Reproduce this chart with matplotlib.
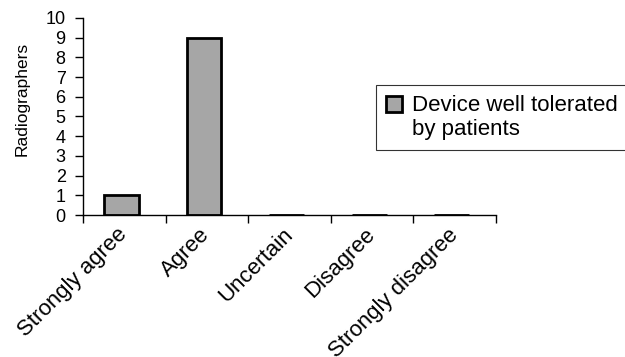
import matplotlib
matplotlib.use("Agg")
import matplotlib.pyplot as plt
from matplotlib.patches import Rectangle
from matplotlib.container import BarContainer
from matplotlib.legend_handler import HandlerPatch, update_from_first_child
from matplotlib.ticker import FixedLocator

plt.rcParams['font.family'] = ['Liberation Sans', 'DejaVu Sans']

categories = ["Strongly agree", "Agree", "Uncertain", "Disagree", "Strongly disagree"]
counts = [1, 9, 0, 0, 0]
series_name = "Device well tolerated\nby patients"
y_ticks = list(range(0, 11))

fig = plt.figure(figsize=(6.25, 3.57), dpi=100)
ax = fig.add_axes([83 / 625, 1 - 215 / 357, 413 / 625, 197 / 357])

x = list(range(len(categories)))
bar_x = [i - 0.035 for i in x]
ax.bar(bar_x, counts, width=0.42, color="#a6a6a6", edgecolor="black",
       linewidth=2.0, label=series_name, zorder=3)

ax.set_xlim(-0.5, len(categories) - 0.5)
ax.set_ylim(0, 10)
ax.set_yticks(y_ticks)
ax.tick_params(axis='y', direction='out', length=5.5, width=1.0, pad=7,
               labelsize=13)

# category labels at centres, tick marks at category boundaries
ax.set_xticks(x)
ax.set_xticklabels(categories, rotation=45, ha='right', va='center',
                   rotation_mode='anchor', fontsize=16)
ax.tick_params(axis='x', which='major', length=0, pad=12)
ax.xaxis.set_minor_locator(FixedLocator([i - 0.5 for i in range(len(categories) + 1)]))
ax.tick_params(axis='x', which='minor', direction='out', length=6, width=1.0)

for side in ("top", "right"):
    ax.spines[side].set_visible(False)
for side in ("left", "bottom"):
    ax.spines[side].set_linewidth(1.0)
    ax.spines[side].set_zorder(4)

ax.set_ylabel("Radiographers", fontsize=12.5)
ax.yaxis.set_label_coords(-0.13, 0.59)


def top_aligned_patch(legend, orig_handle, xdescent, ydescent,
                      width, height, fontsize):
    # keep the swatch level with the first line of a two-line label
    return Rectangle((-xdescent, -ydescent + 0.62 * fontsize), width, height)


bar_handler = HandlerPatch(patch_func=top_aligned_patch,
                           update_func=update_from_first_child)

leg = fig.legend(loc='upper left', bbox_to_anchor=(376 / 625, 1 - 85 / 357),
                 frameon=True, fancybox=False, edgecolor='black',
                 fontsize=16, handlelength=0.7, handleheight=0.7,
                 handletextpad=0.45, borderpad=0.45, borderaxespad=0,
                 handler_map={BarContainer: bar_handler})
leg.get_frame().set_linewidth(0.8)

fig.savefig("out.png", dpi=100)
